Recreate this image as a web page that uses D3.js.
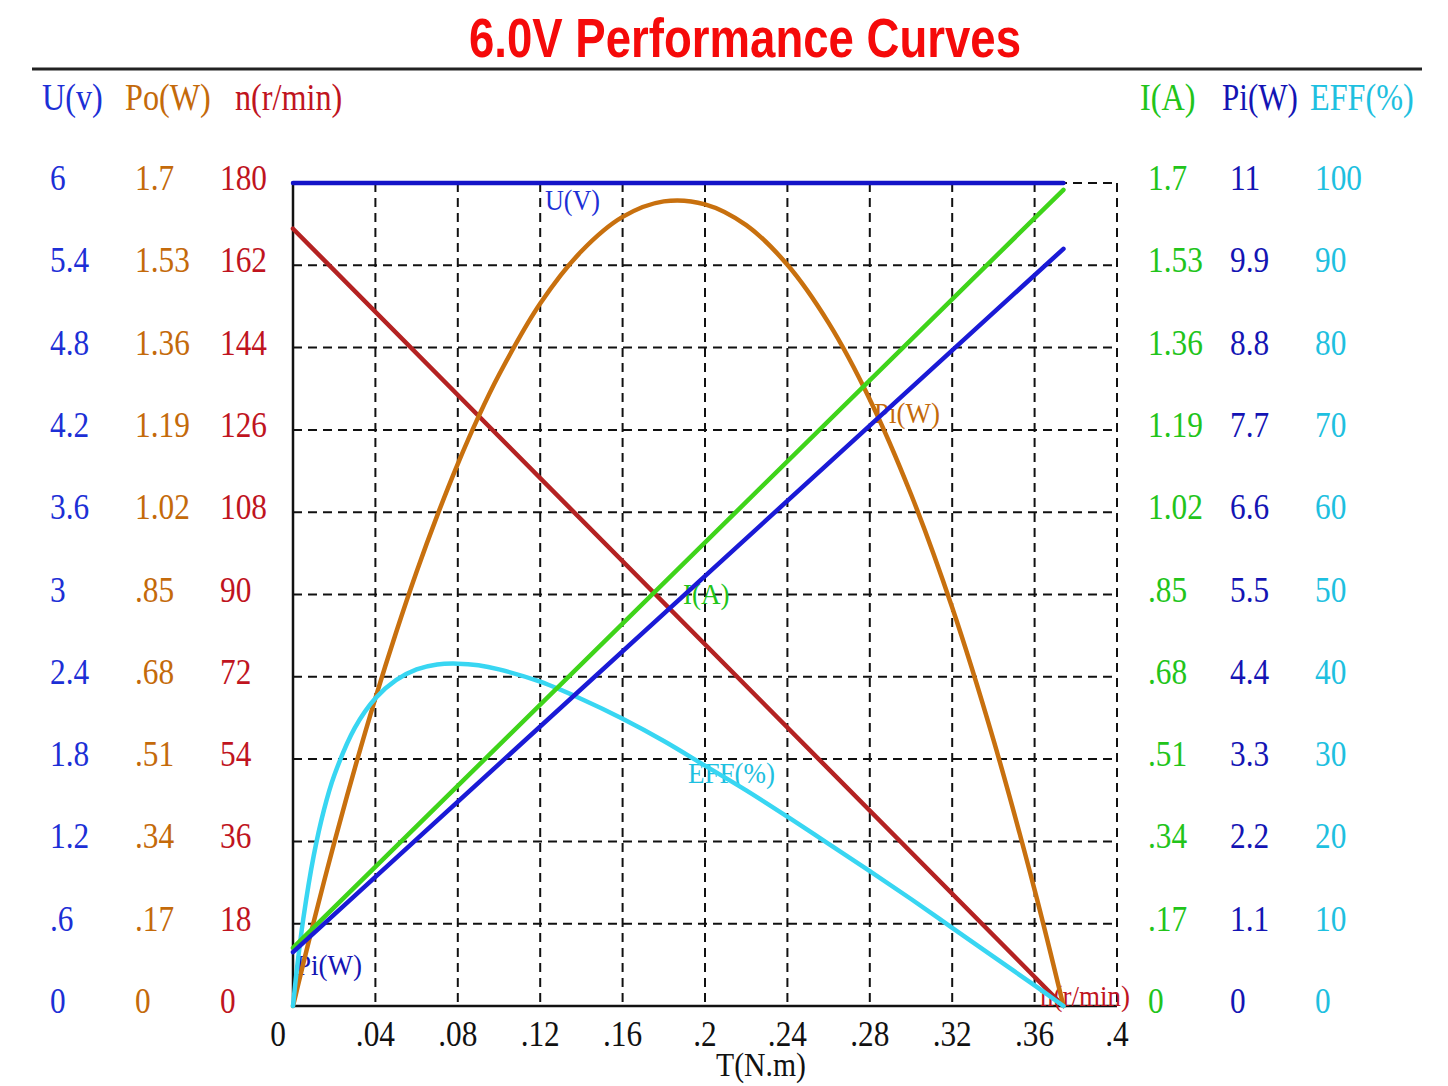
<!DOCTYPE html>
<html>
<head>
<meta charset="utf-8">
<script src="https://cdn.jsdelivr.net/npm/d3@7"></script>
<style>
  body { margin: 0; background: #fff; }
</style>
</head>
<body>
<div id="chart"></div>
<script>
// torque samples (N.m) and the curves
const torque = [0, 0.002, 0.005, 0.01, 0.015, 0.02, 0.03, 0.04, 0.05, 0.06, 0.07, 0.08, 0.09, 0.10,
                0.12, 0.14, 0.16, 0.18, 0.20, 0.22, 0.24, 0.26, 0.28, 0.30, 0.32, 0.34, 0.36, 0.374];
const outputPower = [0, 0.035, 0.088, 0.173, 0.256, 0.337, 0.491, 0.636, 0.771, 0.897, 1.013, 1.120, 1.217, 1.304,
                     1.451, 1.559, 1.630, 1.662, 1.656, 1.613, 1.531, 1.411, 1.253, 1.057, 0.823, 0.550, 0.240, 0];
const efficiency = [0, 4.7, 10.6, 18.2, 23.8, 28.0, 33.8, 37.4, 39.6, 40.9, 41.5, 41.6, 41.4, 40.9,
                    39.4, 37.3, 34.9, 32.2, 29.2, 26.2, 23.0, 19.7, 16.4, 13.0, 9.5, 6.0, 2.5, 0];

// straight lines: start and end torque
const lineTorque = [0, 0.374];
const voltage = [6, 6];
const speed = [170, 0];
const current = [0.12, 1.686];
const inputPower = [0.72, 10.12];

// axis ticks
const xTicks = [0, 0.04, 0.08, 0.12, 0.16, 0.2, 0.24, 0.28, 0.32, 0.36, 0.4];
const xTickLabels = ["0", ".04", ".08", ".12", ".16", ".2", ".24", ".28", ".32", ".36", ".4"];
const uTicks = ["0", ".6", "1.2", "1.8", "2.4", "3", "3.6", "4.2", "4.8", "5.4", "6"];
const poTicks = ["0", ".17", ".34", ".51", ".68", ".85", "1.02", "1.19", "1.36", "1.53", "1.7"];
const nTicks = ["0", "18", "36", "54", "72", "90", "108", "126", "144", "162", "180"];
const iTicks = ["0", ".17", ".34", ".51", ".68", ".85", "1.02", "1.19", "1.36", "1.53", "1.7"];
const piTicks = ["0", "1.1", "2.2", "3.3", "4.4", "5.5", "6.6", "7.7", "8.8", "9.9", "11"];
const effTicks = ["0", "10", "20", "30", "40", "50", "60", "70", "80", "90", "100"];

const W = 1448, H = 1086;
const plotLeft = 293, plotRight = 1117, plotTop = 183, plotBottom = 1006;

const C = {
    u: "#1414c8", uText: "#1c2fd6",
    po: "#c8700e", poText: "#c46a0a",
    n: "#b42222", nText: "#c0141e",
    i: "#3fd41a", iText: "#22c41a",
    pi: "#1a1ad6", piText: "#1414b4",
    eff: "#38d6f2", effText: "#1ec0e0"
};

const svg = d3.select("#chart").append("svg")
    .attr("width", W).attr("height", H)
    .style("font-family", "'Liberation Serif', 'Times New Roman', serif");

const x = d3.scaleLinear().domain([0, 0.4]).range([plotLeft, plotRight]);
const level = d3.scaleLinear().domain([0, 10]).range([plotBottom, plotTop]);
const yU = d3.scaleLinear().domain([0, 6]).range([plotBottom, plotTop]);
const yPo = d3.scaleLinear().domain([0, 1.7]).range([plotBottom, plotTop]);
const yN = d3.scaleLinear().domain([0, 180]).range([plotBottom, plotTop]);
const yI = d3.scaleLinear().domain([0, 1.7]).range([plotBottom, plotTop]);
const yPi = d3.scaleLinear().domain([0, 11]).range([plotBottom, plotTop]);
const yEff = d3.scaleLinear().domain([0, 100]).range([plotBottom, plotTop]);

// text squeezed horizontally like the original
function label(px, py, str, color, size, sx = 0.87) {
    return svg.append("text")
        .attr("transform", `translate(${px},${py}) scale(${sx},1)`)
        .style("font-size", size + "px")
        .style("fill", color)
        .text(str);
}

// title + rule
svg.append("text")
    .attr("x", 745).attr("y", 57)
    .attr("text-anchor", "middle")
    .attr("textLength", 552).attr("lengthAdjust", "spacingAndGlyphs")
    .style("font-family", "'Liberation Sans', Arial, sans-serif")
    .style("font-weight", "bold")
    .style("font-size", "56px")
    .style("fill", "#f50a0a")
    .text("6.0V Performance Curves");

svg.append("line")
    .attr("x1", 32).attr("x2", 1422).attr("y1", 69).attr("y2", 69)
    .style("stroke", "#222").style("stroke-width", 3);

// header labels
label(42, 110, "U(v)", C.uText, 37);
label(125, 110, "Po(W)", C.poText, 37);
label(235, 110, "n(r/min)", C.nText, 37);
label(1140, 110, "I(A)", C.iText, 37);
label(1222, 110, "Pi(W)", C.piText, 37, 0.84);
label(1310, 110, "EFF(%)", C.effText, 37);

// grid
const grid = svg.append("g")
    .style("stroke", "#111").style("stroke-width", 2).style("stroke-dasharray", "9,6");
grid.selectAll(".vg").data(xTicks.slice(1)).join("line")
    .attr("x1", d => x(d)).attr("x2", d => x(d))
    .attr("y1", plotTop).attr("y2", plotBottom);
grid.selectAll(".hg").data(d3.range(1, 11)).join("line")
    .attr("x1", plotLeft).attr("x2", plotRight)
    .attr("y1", d => level(d)).attr("y2", d => level(d));

// solid axes
svg.append("line").attr("x1", plotLeft).attr("x2", plotLeft).attr("y1", plotTop).attr("y2", plotBottom)
    .style("stroke", "#111").style("stroke-width", 2.5);
svg.append("line").attr("x1", plotLeft).attr("x2", plotRight).attr("y1", plotBottom).attr("y2", plotBottom)
    .style("stroke", "#111").style("stroke-width", 2.5);

// x tick labels
xTicks.forEach((t, i) => {
    const dx = i === 0 ? -15 : 0;
    svg.append("text")
        .attr("transform", `translate(${x(t) + dx},${plotBottom + 40}) scale(0.87,1)`)
        .attr("text-anchor", "middle")
        .style("font-size", "36px").style("fill", "#111")
        .text(xTickLabels[i]);
});
svg.append("text")
    .attr("transform", `translate(761,${plotBottom + 70}) scale(0.9,1)`)
    .attr("text-anchor", "middle")
    .style("font-size", "33px").style("fill", "#111")
    .text("T(N.m)");

// y tick columns
const columns = [
    { ticks: uTicks, x: 50, color: C.uText },
    { ticks: poTicks, x: 135, color: C.poText },
    { ticks: nTicks, x: 220, color: C.nText },
    { ticks: iTicks, x: 1148, color: C.iText },
    { ticks: piTicks, x: 1230, color: C.piText },
    { ticks: effTicks, x: 1315, color: C.effText }
];
columns.forEach(col => {
    col.ticks.forEach((t, i) => label(col.x, level(i) + 7, t, col.color, 36));
});

// curves
function drawLine(xs, ys, yScale, color, curve) {
    const pts = xs.map((t, i) => [x(t), yScale(ys[i])]);
    const gen = d3.line();
    if (curve) gen.curve(curve);
    svg.append("path")
        .attr("d", gen(pts))
        .style("fill", "none")
        .style("stroke", color)
        .style("stroke-width", 4.5)
        .style("stroke-linecap", "round")
        .style("stroke-linejoin", "round");
}

// in-plot curve labels
label(545, 210, "U(V)", C.uText, 29, 0.9);
label(874, 423, "Pi(W)", C.poText, 30, 0.9);
label(683, 604, "I(A)", C.iText, 30, 0.9);
label(688, 783, "EFF(%)", C.effText, 30, 0.9);
label(296, 975, "Pi(W)", C.piText, 30, 0.9);
label(1040, 1006, "n(r/min)", C.nText, 30, 0.9);

drawLine(lineTorque, speed, yN, C.n);
drawLine(torque, outputPower, yPo, C.po, d3.curveCatmullRom.alpha(0.5));
drawLine(torque, efficiency, yEff, C.eff, d3.curveCatmullRom.alpha(0.5));
drawLine(lineTorque, current, yI, C.i);
drawLine(lineTorque, inputPower, yPi, C.pi);
drawLine(lineTorque, voltage, yU, C.u);
</script>
</body>
</html>
